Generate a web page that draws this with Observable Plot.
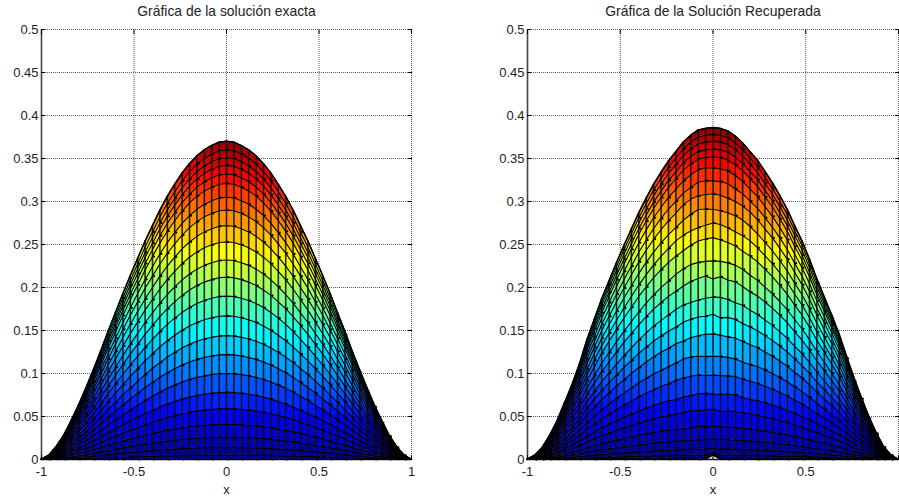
<!DOCTYPE html>
<html>
<head>
<meta charset="utf-8">
<script src="https://cdn.jsdelivr.net/npm/d3@7"></script>
<script src="https://cdn.jsdelivr.net/npm/@observablehq/plot@0.6"></script>
<style>
html,body{margin:0;padding:0;background:#fff;}
#root{position:relative;width:899px;height:503px;overflow:hidden;}
</style>
</head>
<body>
<div id="root"></div>
<script>
const xGrid = [-1,-0.96,-0.92,-0.88,-0.84,-0.8,-0.76,-0.72,-0.68,-0.64,-0.6,-0.56,-0.52,-0.48,-0.44,-0.4,-0.36,-0.32,-0.28,-0.24,-0.2,-0.16,-0.12,-0.08,-0.04,0,0.04,0.08,0.12,0.16,0.2,0.24,0.28,0.32,0.36,0.4,0.44,0.48,0.52,0.56,0.6,0.64,0.68,0.72,0.76,0.8,0.84,0.88,0.92,0.96,1];
const xTicks = [-1,-0.5,0,0.5,1];
const xLabelsExact = [-1,-0.5,0,0.5,1];
const xLabelsRecovered = [-1,-0.5,0,0.5];
const yTicks = [0,0.05,0.1,0.15,0.2,0.25,0.3,0.35,0.4,0.45,0.5];
const titleExact = "Gráfica de la solución exacta";
const titleRecovered = "Gráfica de la Solución Recuperada";

// outline of each surface and its mesh-line heights along x = 0
const profileExact = [0,.005,.015,.028,.045,.063,.083,.104,.126,.149,.171,.193,.214,.234,.254,.272,.29,.306,.32,.333,.344,.353,.36,.365,.369,.37,.369,.365,.36,.353,.344,.333,.32,.306,.29,.272,.254,.234,.214,.193,.171,.149,.126,.104,.083,.063,.045,.028,.015,.005,0];
const levelsExact = [.37,.36,.351,.342,.332,.321,.305,.29,.272,.253,.232,.212,.19,.167,.144,.122,.1,.078,.059,.041,.026,.014,.005,0];

const profileRecovered = [0,.005,.014,.028,.045,.066,.087,.111,.139,.163,.187,.208,.229,.249,.268,.287,.304,.320,.334,.347,.358,.369,.377,.383,.385,.386,.385,.382,.376,.368,.358,.348,.335,.322,.307,.291,.272,.254,.233,.21,.189,.168,.146,.12,.095,.072,.05,.031,.015,.005,0];
const levelsRecovered = [.386,.378,.37,.361,.352,.339,.324,.309,.291,.273,.255,.231,.211,.187,.166,.144,.12,.098,.076,.057,.038,.023,.012,.005,.002,0];
// departures of the recovered mesh lines from a smooth curve for x = -0.2 ... 0.2 (thousandths)
const rippleRecovered = [
[0,0,0,0,0,0,0,0,0,0,0],
[0,0,0,0,0,0,0,0,0,0,0],
[0,0,0,0,0,0,0,0,0,0,0],
[0,0,0,0,0,0,0,0,0,0,0],
[0,0,0,0,0,0,0,0,0,0,0],
[0,0,0,1,1,0,0,0,0,0,0],
[0,0,0,1,1,0,0,0,-1,0,0],
[0,1,1,0,0,0,-1,-2,-1,0,1],
[0,0,1,2,1,0,-1,-1,0,1,1],
[1,0,-1,-1,0,2,1,-1,-1,0,1],
[0,-1,0,1,2,3,1,0,0,-1,0],
[1,1,1,0,0,0,0,0,1,1,0],
[0,0,1,1,3,-1,2,0,1,0,-1],
[1,1,0,0,1,2,2,1,0,1,0],
[0,1,1,1,1,3,-1,1,1,0,0],
[1,0,1,1,2,2,1,0,1,0,0],
[1,2,2,1,0,0,0,0,0,-1,-1],
[1,1,1,1,0,0,0,0,1,0,0],
[-1,0,0,1,1,0,0,1,1,0,-1],
[0,0,1,0,1,1,-1,0,0,0,0],
[0,-1,0,1,0,1,0,0,0,0,0],
[0,0,0,0,1,0,1,0,0,0,0],
[0,0,0,0,0,1,0,1,0,0,0],
[0,0,0,0,0,3,0,0,0,0,0],
[0,0,0,0,0,4,0,0,0,0,0],
[0,0,0,0,0,5,0,0,0,0,0]
];
const jetStops = [0,.125,.375,.625,.875,1];
const jetColors = ["#000090","#0000ff","#00ffff","#ffff00","#ff0000","#800000"];

function surface(title, profile, levels, ripple, xLabels, left, width, marginLeft, marginRight){
  const peak = levels[0];
  const curve = (j,i)=>{
    const k = i-25;
    const r = ripple && Math.abs(k)<=5 ? ripple[j][k+5]/1000 : 0;
    return Math.min(profile[i], Math.max(0, profile[i]*levels[j]/peak + r));
  };
  const cells=[], lines=[], studs=[];
  levels.forEach((_,j)=>{
    xGrid.forEach((x,i)=>{
      const y=curve(j,i);
      lines.push({x,y,j});
      if((i+j)%2===0 && i>0 && i<50 && j>0) studs.push({x,y});
      if(j<levels.length-1 && i<50){
        const c=`${j}-${i}`, v=curve(j+1,i);
        cells.push({x,hi:y,lo:v,c,v});
        cells.push({x:xGrid[i+1],hi:curve(j,i+1),lo:curve(j+1,i+1),c,v});
      }
    });
  });
  const last=levels.length-1;
  const verticals=xGrid.map((x,i)=>({x,y1:curve(last,i),y2:profile[i]}));
  const grid={stroke:"#5a5a5a",strokeWidth:1,strokeDasharray:"1,1"};
  const plot=Plot.plot({
    width,height:503,marginLeft,marginRight,marginTop:29,marginBottom:44,
    style:{background:"#fff",color:"#222",fontFamily:"Liberation Sans, Arial, sans-serif"},
    x:{type:"linear",domain:[-1,1]},
    y:{type:"linear",domain:[0,.5]},
    color:{type:"linear",domain:jetStops.map(s=>s*peak),range:jetColors,interpolate:"rgb"},
    marks:[
      Plot.ruleX(xTicks,{...grid}),
      Plot.ruleY(yTicks,{...grid}),
      Plot.ruleY([0],{stroke:"#111",strokeWidth:1.5}),
      Plot.area(cells,{x1:"x",y1:"lo",y2:"hi",z:"c",fill:"v",stroke:"v",strokeWidth:.3}),
      Plot.ruleX(verticals,{x:"x",y1:"y1",y2:"y2",stroke:"#111",strokeOpacity:.9,strokeWidth:1.6}),
      Plot.line(lines,{x:"x",y:"y",z:"j",stroke:"#000",strokeWidth:1.1}),
      Plot.dot(studs,{x:"x",y:"y",r:1.1,fill:"#000",dx:1.5}),
      Plot.line(xGrid.map((x,i)=>({x,y:profile[i]})),{x:"x",y:"y",stroke:"#000",strokeWidth:1.5}),
      Plot.ruleX([-1],{stroke:"#444",strokeWidth:1.6}),
      Plot.axisX(xLabels,{anchor:"bottom",tickSize:0,tickPadding:7,fontSize:13,tickFormat:d=>String(d),label:"x",labelAnchor:"center",labelArrow:"none",labelOffset:34}),
      Plot.axisY(yTicks,{anchor:"left",tickSize:0,tickPadding:3,fontSize:13,tickFormat:d=>String(d),label:null}),
      Plot.axisY(yTicks,{anchor:"left",tickSize:-4,text:null,label:null,stroke:"#000"}),
      Plot.axisY(yTicks,{anchor:"right",tickSize:-4,text:null,label:null,stroke:"#000"}),
      Plot.axisX(xTicks,{anchor:"bottom",tickSize:-4,text:null,label:null,stroke:"#000"}),
      Plot.axisX(xTicks,{anchor:"top",tickSize:-4,text:null,label:null,stroke:"#000"}),
      Plot.text([title],{frameAnchor:"top",dy:-23,fontSize:13.9,fill:"#222"})
    ]
  });
  plot.style.left=left+"px";
  plot.style.top="0";
  plot.style.position="absolute";
  return plot;
}
const root=document.getElementById("root");
root.append(surface(titleExact,profileExact,levelsExact,null,xLabelsExact,0,450,41,39));
root.append(surface(titleRecovered,profileRecovered,levelsRecovered,rippleRecovered,xLabelsRecovered,450,449,77,1));
</script>
</body>
</html>
